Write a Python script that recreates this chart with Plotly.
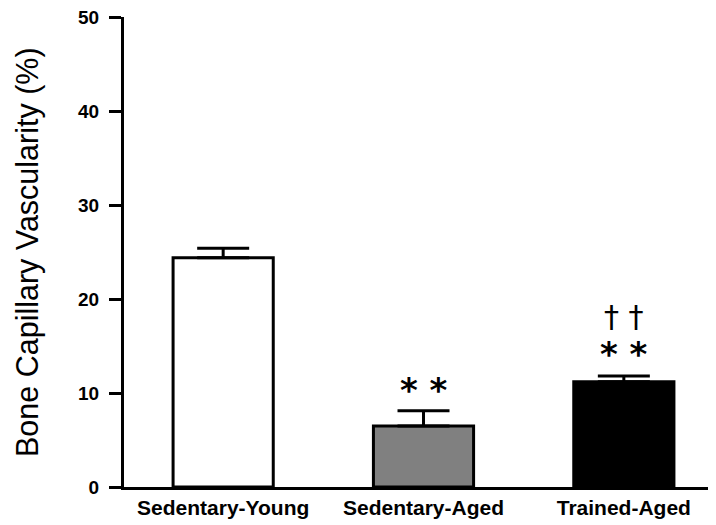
import plotly.graph_objects as go

categories = ["Sedentary-Young", "Sedentary-Aged", "Trained-Aged"]
means = [24.4, 6.5, 11.2]
errors = [1.0, 1.6, 0.6]
colors = ["#ffffff", "#808080", "#000000"]
y_ticks = [0, 10, 20, 30, 40, 50]
sig_aged = ["* *", "* *"]  # significance vs young
sig_trained = ["† †"]      # significance vs sedentary aged

fig = go.Figure()
fig.add_trace(go.Bar(
    x=[0, 1, 2], y=means, width=0.5,
    marker=dict(color=colors, line=dict(color="black", width=3)),
    error_y=dict(type="data", array=errors, arrayminus=[0, 0, 0], symmetric=False,
                 color="black", thickness=3, width=26),
    showlegend=False,
))

# significance markers
fig.add_annotation(x=1, y=means[1] + errors[1], yshift=21, text=sig_aged[0], showarrow=False,
                   font=dict(family="DejaVu Sans", size=34, color="black", weight="bold"),
                   yanchor="middle")
fig.add_annotation(x=2, y=means[2] + errors[2], yshift=22, text=sig_aged[1], showarrow=False,
                   font=dict(family="DejaVu Sans", size=34, color="black", weight="bold"),
                   yanchor="middle")
fig.add_annotation(x=2, y=means[2] + errors[2], yshift=60, text=sig_trained[0], showarrow=False,
                   font=dict(family="DejaVu Sans", size=30, color="black"), yanchor="middle")

# y-axis title
fig.add_annotation(xref="paper", yref="paper", x=0, y=0.5, xshift=-97, xanchor="center",
                   yanchor="middle", textangle=-90, showarrow=False,
                   text="Bone Capillary Vascularity (%)",
                   font=dict(family="Liberation Sans", size=30.5, color="black"))

fig.update_layout(
    width=716, height=525,
    margin=dict(l=116, r=8, t=9, b=46, autoexpand=False),
    plot_bgcolor="white", paper_bgcolor="white",
)
fig.update_xaxes(
    range=[-0.495, 2.46], tickmode="array", tickvals=[0, 1, 2], ticktext=categories,
    showline=True, linecolor="black", linewidth=3, ticks="", showgrid=False, zeroline=False,
    automargin=False,
    tickfont=dict(family="Liberation Sans", size=21, color="black", weight="bold"),
)
fig.update_yaxes(
    range=[0, 50], tickvals=y_ticks, showline=True, linecolor="black", linewidth=3,
    ticks="outside", ticklen=12, tickwidth=3, tickcolor="black", showgrid=False, zeroline=False,
    ticklabelstandoff=6, ticklabeloverflow="allow", automargin=False,
    tickfont=dict(family="Liberation Sans", size=19, color="black", weight="bold"),
)
fig.write_html("out.html")
